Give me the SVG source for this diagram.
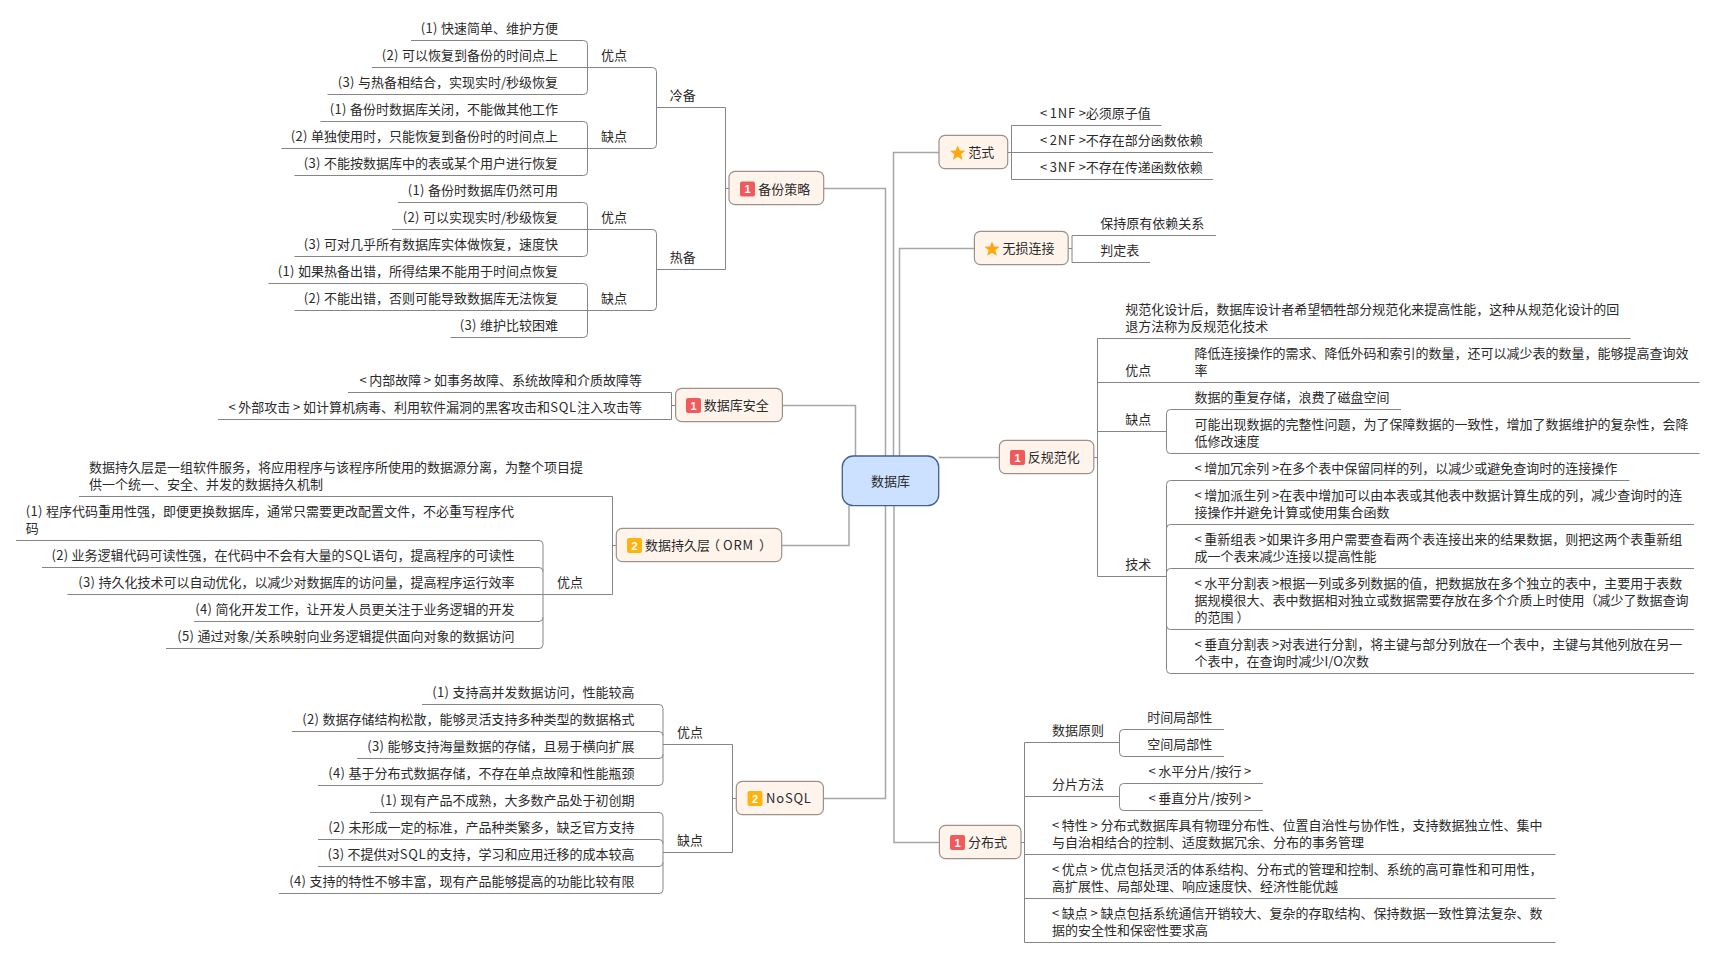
<svg xmlns="http://www.w3.org/2000/svg" width="1716" height="958" viewBox="0 0 1716 958">
<style>
text{font-family:"Noto Sans CJK SC","Noto Sans",sans-serif;font-size:13px;fill:#2b2b2b}
.e{text-anchor:end}
.c{fill:none;stroke:#858585;stroke-width:1}
.m{fill:none;stroke:#a6a6a6;stroke-width:1.5}
.n{fill:#fef4eb;stroke:#9c9189;stroke-width:1.2}
.r{fill:#f15a5a}
.o{fill:#ffb30f}
.d{fill:#fff;font-size:11px;font-weight:700;text-anchor:middle;font-family:"Liberation Sans",sans-serif}
.s{fill:#ffa70f}
.a{letter-spacing:2.6px}
.l{letter-spacing:.8px}
.p{letter-spacing:.3px}
</style>
<defs>
<polygon id="star" points="0,-7.5 2.2,-2.4 7.6,-2.2 3.4,1.3 4.8,6.7 0,3.7 -4.8,6.7 -3.4,1.3 -7.6,-2.2 -2.2,-2.4"/>
</defs>
<rect width="1716" height="958" fill="#fff"/>
<g id="connectors">
<path class="m" d="M823.7 188.5H885.5V456M782.4 405.5H855.5V456M781.7 545.5H849V505.7M823.4 798.5H885.5V505.7M894 505.7V842.5H939.4M893.5 456V152.5H939M899.5 456V248.5H974.4M938.7 457.5H999.4"/>
<path class="c" d="M411 40.5H583.5Q587.5 40.5 587.5 44.5V90.5Q587.5 94.5 583.5 94.5H327.5M372 67.5H652.5Q656.5 67.5 656.5 71.5V144.5Q656.5 148.5 652.5 148.5H281.5M320.5 121.5H583.5Q587.5 121.5 587.5 125.5V171.5Q587.5 175.5 583.5 175.5H294.5M656.5 107.5H725.5M656.5 269.5H725.5M725.5 107.5V269.5M725.5 188.5H729"/>
<path class="c" d="M398 202.5H583.5Q587.5 202.5 587.5 206.5V252.5Q587.5 256.5 583.5 256.5H294.5M392 229.5H652.5Q656.5 229.5 656.5 233.5V306.5Q656.5 310.5 652.5 310.5H294.5M268.5 283.5H583.5Q587.5 283.5 587.5 287.5V333.5Q587.5 337.5 583.5 337.5H450.5"/>
<path class="c" d="M348 392.5H671.5V419.5H218M671.5 405.5H675.6"/>
<path class="c" d="M79 496.5H612.5V594.5H67.5M612.5 545.5H616.3M16 540.5H539Q543 540.5 543 544.5V644.5Q543 648.5 539 648.5H166M42 567.5H539Q543 567.5 543 571.5M194 621.5H539Q543 621.5 543 617.5"/>
<path class="c" d="M422 704.5H659Q663 704.5 663 708.5V781.5Q663 785.5 659 785.5H318M292 731.5H659Q663 731.5 663 735.5M357 758.5H659Q663 758.5 663 754.5M663 744.5H732.5V852.5H663M370 812.5H659Q663 812.5 663 816.5V889.5Q663 893.5 659 893.5H279M318 839.5H659Q663 839.5 663 843.5M318 866.5H659Q663 866.5 663 862.5M732.5 798.5H736.3"/>
<path class="c" d="M1007.7 152.5H1213M1161.5 125.5H1011.5V179.5H1213M1068.2 248.5H1072M1216 235.5H1072V262.5H1150"/>
<path class="c" d="M1093.8 457.5H1097.5M1630.7 338.5H1097.5V576.5H1166.5M1097.5 382.5H1699.5M1097.5 431.5H1166.5M1401 409.5H1170.5Q1166.5 409.5 1166.5 413.5V449.5Q1166.5 453.5 1170.5 453.5H1699.5M1629.5 480.5H1170.5Q1166.5 480.5 1166.5 484.5V669.5Q1166.5 673.5 1170.5 673.5H1694M1694 524.5H1170.5Q1166.5 524.5 1166.5 528.5M1694 568.5H1170.5Q1166.5 568.5 1166.5 572.5M1694 629.5H1170.5Q1166.5 629.5 1166.5 625.5"/>
<path class="c" d="M1021 842.5H1024.5M1024.5 742.5V942.5H1555.5M1024.5 742.5H1119.5M1024.5 796.5H1119.5M1024.5 854.5H1555.5M1024.5 898.5H1555.5M1224 729.5H1123.5Q1119.5 729.5 1119.5 733.5V752.5Q1119.5 756.5 1123.5 756.5H1224M1263 783.5H1123.5Q1119.5 783.5 1119.5 787.5V806.5Q1119.5 810.5 1123.5 810.5H1263"/>
</g>
<g id="root"><rect x="842.3" y="456" width="96.4" height="49.7" rx="11" fill="#cce0ff" stroke="#3f5f96" stroke-width="1.3"/><text x="890.5" y="486" text-anchor="middle">数据库</text></g>
<g id="n-backup"><rect class="n" x="729" y="171.3" width="94.7" height="33.4" rx="6"/><rect class="r" x="740" y="181.5" width="15" height="15" rx="2"/><text class="d" x="747.5" y="193">1</text><text x="758.3" y="193.5">备份策略</text></g>
<g id="n-cold"><text x="669.8" y="100">冷备</text></g>
<g id="n-cold-pro"><text x="601" y="60">优点</text></g>
<g id="n-cold-con"><text x="601" y="141">缺点</text></g>
<g id="n-hot"><text x="669.8" y="262">热备</text></g>
<g id="n-hot-pro"><text x="601" y="222">优点</text></g>
<g id="n-hot-con"><text x="601" y="303">缺点</text></g>
<g id="l-b1"><text class="e" x="558" y="33"><tspan class="p">(1) </tspan>快速简单、维护方便</text></g>
<g id="l-b2"><text class="e" x="558" y="60"><tspan class="p">(2) </tspan>可以恢复到备份的时间点上</text></g>
<g id="l-b3"><text class="e" x="558" y="87"><tspan class="p">(3) </tspan>与热备相结合，实现实时/秒级恢复</text></g>
<g id="l-b4"><text class="e" x="558" y="114"><tspan class="p">(1) </tspan>备份时数据库关闭，不能做其他工作</text></g>
<g id="l-b5"><text class="e" x="558" y="141"><tspan class="p">(2) </tspan>单独使用时，只能恢复到备份时的时间点上</text></g>
<g id="l-b6"><text class="e" x="558" y="168"><tspan class="p">(3) </tspan>不能按数据库中的表或某个用户进行恢复</text></g>
<g id="l-b7"><text class="e" x="558" y="195"><tspan class="p">(1) </tspan>备份时数据库仍然可用</text></g>
<g id="l-b8"><text class="e" x="558" y="222"><tspan class="p">(2) </tspan>可以实现实时/秒级恢复</text></g>
<g id="l-b9"><text class="e" x="558" y="249"><tspan class="p">(3) </tspan>可对几乎所有数据库实体做恢复，速度快</text></g>
<g id="l-b10"><text class="e" x="558" y="276"><tspan class="p">(1) </tspan>如果热备出错，所得结果不能用于时间点恢复</text></g>
<g id="l-b11"><text class="e" x="558" y="303"><tspan class="p">(2) </tspan>不能出错，否则可能导致数据库无法恢复</text></g>
<g id="l-b12"><text class="e" x="558" y="330"><tspan class="p">(3) </tspan>维护比较困难</text></g>
<g id="n-security"><rect class="n" x="675.6" y="388.3" width="106.8" height="33.4" rx="6"/><rect class="r" x="686" y="398" width="15" height="15" rx="2"/><text class="d" x="693.5" y="409.5">1</text><text x="703.8" y="410">数据库安全</text></g>
<g id="l-s1"><text class="e" x="642" y="385"><tspan class="a">&lt;</tspan>内部故障<tspan dx="2.6">&gt;</tspan> 如事务故障、系统故障和介质故障等</text></g>
<g id="l-s2"><text class="e" x="642" y="412"><tspan class="a">&lt;</tspan>外部攻击<tspan dx="2.6">&gt;</tspan> 如计算机病毒、利用软件漏洞的黑客攻击和<tspan class="l">SQL</tspan>注入攻击等</text></g>
<g id="n-orm"><rect class="n" x="616.3" y="528.3" width="165.4" height="33.4" rx="6"/><rect class="o" x="627" y="538" width="15" height="15" rx="2"/><text class="d" x="634.5" y="549.5">2</text><text x="645" y="550">数据持久层<tspan dx="-3">（</tspan><tspan class="l" dx="3">ORM</tspan><tspan dx="5">）</tspan></text></g>
<g id="l-o0"><text x="89" y="472">数据持久层是一组软件服务，将应用程序与该程序所使用的数据源分离，为整个项目提<tspan x="89" y="489">供一个统一、安全、并发的数据持久机制</tspan></text></g>
<g id="n-orm-pro"><text x="557" y="587">优点</text></g>
<g id="l-o1"><text x="25.8" y="516"><tspan class="p">(1) </tspan>程序代码重用性强，即便更换数据库，通常只需要更改配置文件，不必重写程序代<tspan x="25.8" y="533">码</tspan></text></g>
<g id="l-o2"><text class="e" x="514.5" y="560"><tspan class="p">(2) </tspan>业务逻辑代码可读性强，在代码中不会有大量的<tspan class="l">SQL</tspan>语句，提高程序的可读性</text></g>
<g id="l-o3"><text class="e" x="514.5" y="587"><tspan class="p">(3) </tspan>持久化技术可以自动优化，以减少对数据库的访问量，提高程序运行效率</text></g>
<g id="l-o4"><text class="e" x="514.5" y="614"><tspan class="p">(4) </tspan>简化开发工作，让开发人员更关注于业务逻辑的开发</text></g>
<g id="l-o5"><text class="e" x="514.5" y="641"><tspan class="p">(5) </tspan>通过对象/关系映射向业务逻辑提供面向对象的数据访问</text></g>
<g id="n-nosql"><rect class="n" x="736.3" y="781.3" width="87.1" height="33.4" rx="6"/><rect class="o" x="747.5" y="791" width="15" height="15" rx="2"/><text class="d" x="755" y="802.5">2</text><text class="l" x="766" y="803">NoSQL</text></g>
<g id="n-nosql-pro"><text x="677" y="737">优点</text></g>
<g id="n-nosql-con"><text x="677" y="845">缺点</text></g>
<g id="l-q1"><text class="e" x="634.5" y="697"><tspan class="p">(1) </tspan>支持高并发数据访问，性能较高</text></g>
<g id="l-q2"><text class="e" x="634.5" y="724"><tspan class="p">(2) </tspan>数据存储结构松散，能够灵活支持多种类型的数据格式</text></g>
<g id="l-q3"><text class="e" x="634.5" y="751"><tspan class="p">(3) </tspan>能够支持海量数据的存储，且易于横向扩展</text></g>
<g id="l-q4"><text class="e" x="634.5" y="778"><tspan class="p">(4) </tspan>基于分布式数据存储，不存在单点故障和性能瓶颈</text></g>
<g id="l-q5"><text class="e" x="634.5" y="805"><tspan class="p">(1) </tspan>现有产品不成熟，大多数产品处于初创期</text></g>
<g id="l-q6"><text class="e" x="634.5" y="832"><tspan class="p">(2) </tspan>未形成一定的标准，产品种类繁多，缺乏官方支持</text></g>
<g id="l-q7"><text class="e" x="634.5" y="859"><tspan class="p">(3) </tspan>不提供对<tspan class="l">SQL</tspan>的支持，学习和应用迁移的成本较高</text></g>
<g id="l-q8"><text class="e" x="634.5" y="886"><tspan class="p">(4) </tspan>支持的特性不够丰富，现有产品能够提高的功能比较有限</text></g>
<g id="n-nf"><rect class="n" x="939" y="135.3" width="68.7" height="33.4" rx="6"/><use href="#star" class="s" x="957.7" y="153"/><text x="968.3" y="157">范式</text></g>
<g id="l-f1"><text x="1040" y="118"><tspan class="a">&lt;</tspan><tspan class="l">1NF</tspan><tspan dx="2.6">&gt;</tspan>必须原子值</text></g>
<g id="l-f2"><text x="1040" y="145"><tspan class="a">&lt;</tspan><tspan class="l">2NF</tspan><tspan dx="2.6">&gt;</tspan>不存在部分函数依赖</text></g>
<g id="l-f3"><text x="1040" y="172"><tspan class="a">&lt;</tspan><tspan class="l">3NF</tspan><tspan dx="2.6">&gt;</tspan>不存在传递函数依赖</text></g>
<g id="n-lossless"><rect class="n" x="974.4" y="231.3" width="93.8" height="33.4" rx="6"/><use href="#star" class="s" x="992" y="249"/><text x="1002.6" y="253">无损连接</text></g>
<g id="l-j1"><text x="1100.2" y="228">保持原有依赖关系</text></g>
<g id="l-j2"><text x="1100.2" y="255">判定表</text></g>
<g id="n-denorm"><rect class="n" x="999.4" y="440.3" width="94.4" height="33.4" rx="6"/><rect class="r" x="1010" y="450" width="15" height="15" rx="2"/><text class="d" x="1017.5" y="461.5">1</text><text x="1027.7" y="462">反规范化</text></g>
<g id="l-d0"><text x="1125.3" y="314">规范化设计后，数据库设计者希望牺牲部分规范化来提高性能，这种从规范化设计的回<tspan x="1125.3" y="331">退方法称为反规范化技术</tspan></text></g>
<g id="n-d-pro"><text x="1125.3" y="375">优点</text></g>
<g id="l-d1"><text x="1194.5" y="358">降低连接操作的需求、降低外码和索引的数量，还可以减少表的数量，能够提高查询效<tspan x="1194.5" y="375">率</tspan></text></g>
<g id="n-d-con"><text x="1125.3" y="424">缺点</text></g>
<g id="l-d2"><text x="1194.5" y="402">数据的重复存储，浪费了磁盘空间</text></g>
<g id="l-d3"><text x="1194.5" y="429">可能出现数据的完整性问题，为了保障数据的一致性，增加了数据维护的复杂性，会降<tspan x="1194.5" y="446">低修改速度</tspan></text></g>
<g id="n-d-tech"><text x="1125.3" y="569">技术</text></g>
<g id="l-d4"><text x="1194.5" y="473"><tspan class="a">&lt;</tspan>增加冗余列<tspan dx="2.6">&gt;</tspan>在多个表中保留同样的列，以减少或避免查询时的连接操作</text></g>
<g id="l-d5"><text x="1194.5" y="500"><tspan class="a">&lt;</tspan>增加派生列<tspan dx="2.6">&gt;</tspan>在表中增加可以由本表或其他表中数据计算生成的列，减少查询时的连<tspan x="1194.5" y="517">接操作并避免计算或使用集合函数</tspan></text></g>
<g id="l-d6"><text x="1194.5" y="544"><tspan class="a">&lt;</tspan>重新组表<tspan dx="2.6">&gt;</tspan>如果许多用户需要查看两个表连接出来的结果数据，则把这两个表重新组<tspan x="1194.5" y="561">成一个表来减少连接以提高性能</tspan></text></g>
<g id="l-d7"><text x="1194.5" y="588"><tspan class="a">&lt;</tspan>水平分割表<tspan dx="2.6">&gt;</tspan>根据一列或多列数据的值，把数据放在多个独立的表中，主要用于表数<tspan x="1194.5" y="605">据规模很大、表中数据相对独立或数据需要存放在多个介质上时使用（减少了数据查询</tspan><tspan x="1194.5" y="622">的范围<tspan dx="3">）</tspan></tspan></text></g>
<g id="l-d8"><text x="1194.5" y="649"><tspan class="a">&lt;</tspan>垂直分割表<tspan dx="2.6">&gt;</tspan>对表进行分割，将主键与部分列放在一个表中，主键与其他列放在另一<tspan x="1194.5" y="666">个表中，在查询时减少I/O次数</tspan></text></g>
<g id="n-dist"><rect class="n" x="939.4" y="825.3" width="81.6" height="33.4" rx="6"/><rect class="r" x="950" y="835" width="15" height="15" rx="2"/><text class="d" x="957.5" y="846.5">1</text><text x="968" y="847">分布式</text></g>
<g id="n-dist-a"><text x="1052" y="735">数据原则</text></g>
<g id="l-p1"><text x="1147.3" y="722">时间局部性</text></g>
<g id="l-p2"><text x="1147.3" y="749">空间局部性</text></g>
<g id="n-dist-b"><text x="1052" y="789">分片方法</text></g>
<g id="l-p3"><text x="1148.5" y="776"><tspan class="a">&lt;</tspan>水平分片/按行<tspan dx="2.6">&gt;</tspan></text></g>
<g id="l-p4"><text x="1148.5" y="803"><tspan class="a">&lt;</tspan>垂直分片/按列<tspan dx="2.6">&gt;</tspan></text></g>
<g id="l-p5"><text x="1052" y="830"><tspan class="a">&lt;</tspan>特性<tspan dx="2.6">&gt;</tspan> 分布式数据库具有物理分布性、位置自治性与协作性，支持数据独立性、集中<tspan x="1052" y="847">与自治相结合的控制、适度数据冗余、分布的事务管理</tspan></text></g>
<g id="l-p6"><text x="1052" y="874"><tspan class="a">&lt;</tspan>优点<tspan dx="2.6">&gt;</tspan> 优点包括灵活的体系结构、分布式的管理和控制、系统的高可靠性和可用性，<tspan x="1052" y="891">高扩展性、局部处理、响应速度快、经济性能优越</tspan></text></g>
<g id="l-p7"><text x="1052" y="918"><tspan class="a">&lt;</tspan>缺点<tspan dx="2.6">&gt;</tspan> 缺点包括系统通信开销较大、复杂的存取结构、保持数据一致性算法复杂、数<tspan x="1052" y="935">据的安全性和保密性要求高</tspan></text></g>
</svg>
